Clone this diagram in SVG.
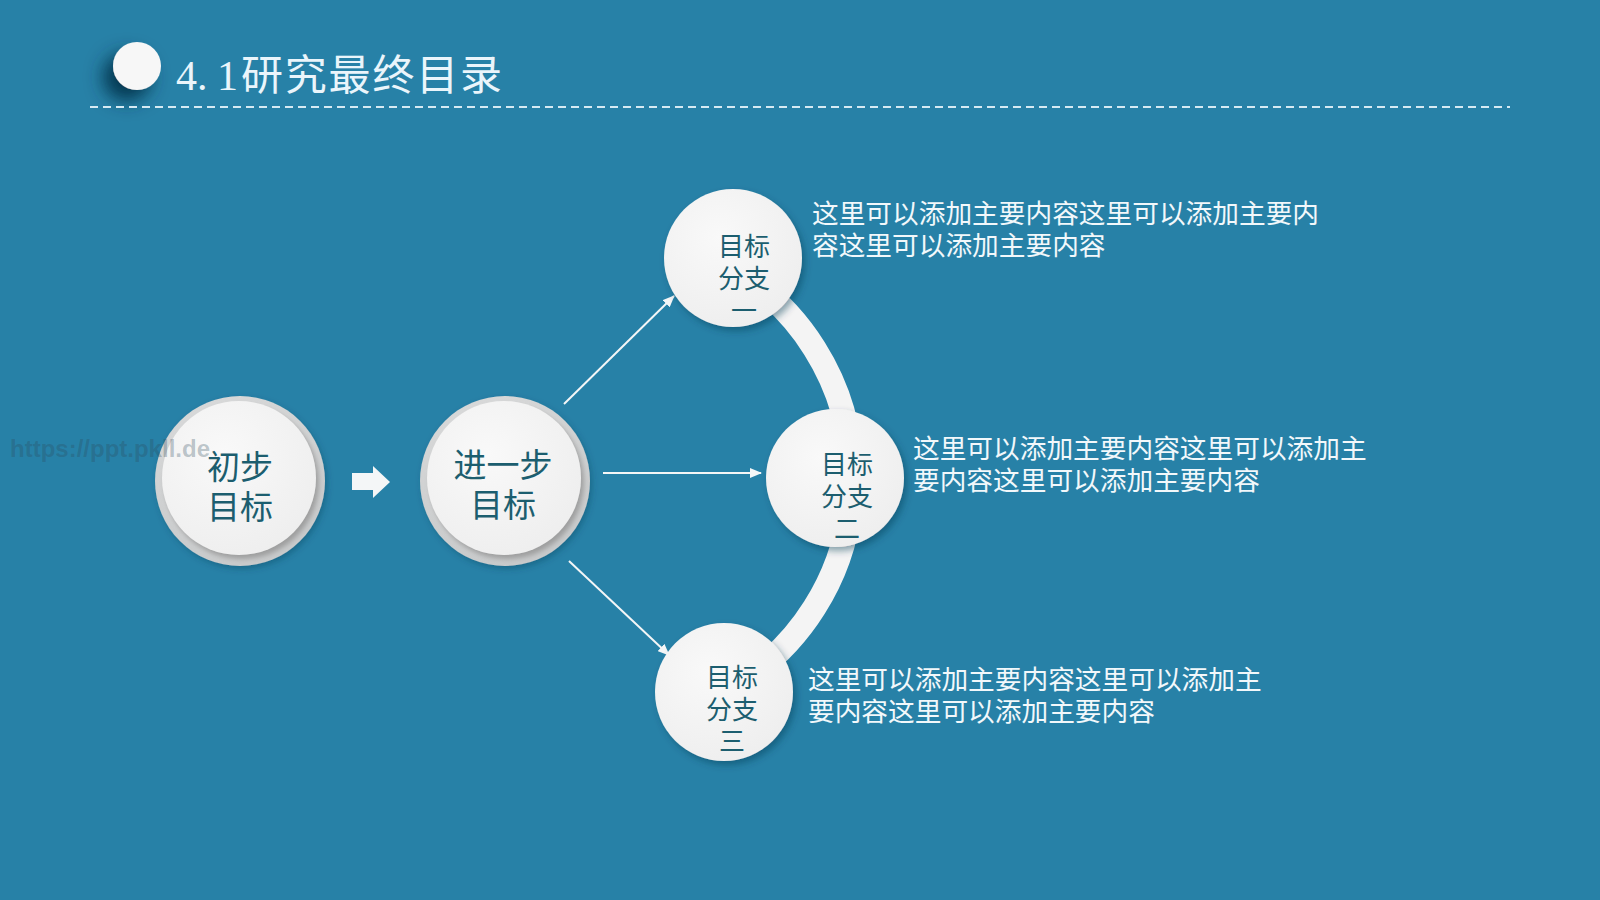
<svg xmlns="http://www.w3.org/2000/svg" width="1600" height="900" viewBox="0 0 1600 900">
<defs>
<style>
.cjk{font-family:"Noto Sans CJK SC","Noto Sans",sans-serif;}
.ntext{fill:#1c5e6f;text-anchor:middle;}
.big{font-size:33px;}
.mid{font-size:26px;}
.desc{fill:#f2f8fb;font-size:26.7px;}
.conn{stroke:#f4f6f7;stroke-width:2;fill:none;marker-end:url(#ah);}
</style>
<marker id="ah" viewBox="0 0 12 10" refX="11" refY="5" markerWidth="12" markerHeight="10" markerUnits="userSpaceOnUse" orient="auto">
<path d="M0,0 L12,5 L0,10 z" fill="#f4f6f7"/>
</marker>
<filter id="titleShadow" x="-100%" y="-100%" width="300%" height="300%">
<feDropShadow dx="-10" dy="11" stdDeviation="9" flood-color="#06324a" flood-opacity="0.9"/>
</filter>
<filter id="ringShadow" x="-20%" y="-20%" width="140%" height="140%">
<feDropShadow dx="2" dy="3" stdDeviation="3" flood-color="#0b3a52" flood-opacity="0.35"/>
</filter>
<filter id="innerShadow" x="-20%" y="-20%" width="140%" height="140%">
<feDropShadow dx="3" dy="4" stdDeviation="2.5" flood-color="#8a8a8a" flood-opacity="0.7"/>
</filter>
<filter id="nodeShadow" x="-20%" y="-20%" width="140%" height="140%">
<feDropShadow dx="3" dy="4" stdDeviation="3.5" flood-color="#0b3a52" flood-opacity="0.45"/>
</filter>
<radialGradient id="ringG" cx="45%" cy="35%" r="70%">
<stop offset="0" stop-color="#e6e6e6"/>
<stop offset="1" stop-color="#c6c8c9"/>
</radialGradient>
<radialGradient id="whiteG" cx="40%" cy="35%" r="70%">
<stop offset="0" stop-color="#f9f9f9"/>
<stop offset="1" stop-color="#eeeeee"/>
</radialGradient>
</defs>
<rect x="0" y="0" width="1600" height="900" fill="#2781a7"/>

<g id="title">
<circle cx="137" cy="66" r="24" fill="#f7f7f7" filter="url(#titleShadow)"/>
<text y="90" fill="#eaf5fb" font-size="42"><tspan x="176" font-family="Liberation Serif, serif">4.</tspan><tspan x="217" font-family="Liberation Serif, serif">1</tspan><tspan x="241" class="cjk" letter-spacing="1.8">研究最终目录</tspan></text>
<line x1="90" y1="107" x2="1510" y2="107" stroke="#d6eaf3" stroke-width="2" stroke-dasharray="8 5"/>
</g>

<g id="connectors">
<path d="M730.5,267.6 A243,243 0 0 1 730.5,688.4" fill="none" stroke="#f4f4f4" stroke-width="24"/>
<path d="M352,473 L373,473 L373,466 L390,482 L373,498 L373,490 L352,490 z" fill="#f4f6f7"/>
<line class="conn" x1="564" y1="404" x2="674" y2="296"/>
<line class="conn" x1="603" y1="473" x2="761" y2="473"/>
<line class="conn" x1="569" y1="561" x2="669" y2="655"/>
</g>

<g id="node-initial">
<circle cx="240" cy="481" r="85" fill="url(#ringG)" filter="url(#ringShadow)"/>
<circle cx="239" cy="478" r="77" fill="url(#whiteG)" filter="url(#innerShadow)"/>
<text class="cjk ntext big" x="240" y="479">初步</text>
<text class="cjk ntext big" x="240" y="519">目标</text>
</g>

<g id="node-further">
<circle cx="505" cy="481" r="85" fill="url(#ringG)" filter="url(#ringShadow)"/>
<circle cx="504" cy="478" r="77" fill="url(#whiteG)" filter="url(#innerShadow)"/>
<text class="cjk ntext big" x="503" y="477">进一步</text>
<text class="cjk ntext big" x="503" y="517">目标</text>
</g>

<g id="branch-1">
<circle cx="733" cy="258" r="69" fill="url(#whiteG)" filter="url(#nodeShadow)"/>
<text class="cjk ntext mid" x="744" y="256">目标</text>
<text class="cjk ntext mid" x="744" y="288">分支</text>
<text class="cjk ntext mid" x="744" y="320">一</text>
</g>

<g id="branch-2">
<circle cx="835" cy="478" r="69" fill="url(#whiteG)" filter="url(#nodeShadow)"/>
<text class="cjk ntext mid" x="847" y="474">目标</text>
<text class="cjk ntext mid" x="847" y="506">分支</text>
<text class="cjk ntext mid" x="847" y="538">二</text>
</g>

<g id="branch-3">
<circle cx="724" cy="692" r="69" fill="url(#whiteG)" filter="url(#nodeShadow)"/>
<text class="cjk ntext mid" x="732" y="687">目标</text>
<text class="cjk ntext mid" x="732" y="719">分支</text>
<text class="cjk ntext mid" x="732" y="751">三</text>
</g>

<g id="desc-1">
<text class="cjk desc" x="812" y="223">这里可以添加主要内容这里可以添加主要内</text>
<text class="cjk desc" x="812" y="255">容这里可以添加主要内容</text>
</g>
<g id="desc-2">
<text class="cjk desc" x="913" y="458">这里可以添加主要内容这里可以添加主</text>
<text class="cjk desc" x="913" y="490">要内容这里可以添加主要内容</text>
</g>
<g id="desc-3">
<text class="cjk desc" x="808" y="689">这里可以添加主要内容这里可以添加主</text>
<text class="cjk desc" x="808" y="721">要内容这里可以添加主要内容</text>
</g>

<text x="10" y="457" font-family="Liberation Sans, sans-serif" font-weight="bold" font-size="24" fill="#2c4a5a" fill-opacity="0.3">https://ppt.pkll.de</text>
</svg>
